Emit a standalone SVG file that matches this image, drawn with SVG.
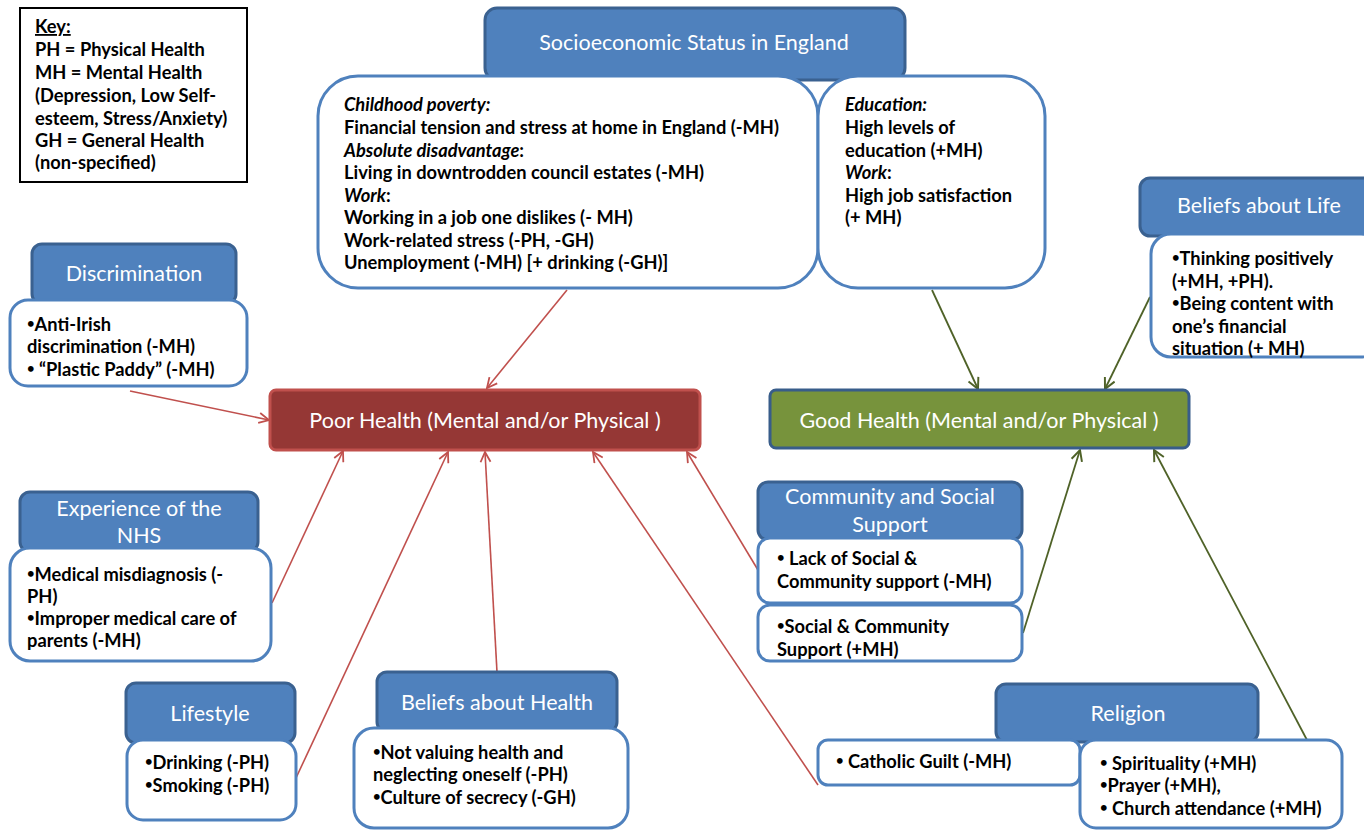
<svg xmlns="http://www.w3.org/2000/svg" width="1364" height="830" viewBox="0 0 1364 830">
<defs>
<style>
.hdr{fill:#4f81bd;stroke:#3a6190;stroke-width:3}
.box{fill:#fff;stroke:#4f81bd;stroke-width:3}
.ht{font-family:Lato,"Open Sans",sans-serif;font-size:21.5px;fill:#fff;text-anchor:middle}
.bt{font-family:Lato,"Open Sans",sans-serif;font-size:18.3px;font-weight:bold;fill:#000}
.it{font-style:italic}
.bu{font-size:13px;baseline-shift:3px}
.red{stroke:#c0504d;stroke-width:1.6;fill:none}
.grn{stroke:#4f6228;stroke-width:1.8;fill:none}
</style>
<marker id="ar" viewBox="0 0 12 12" refX="11" refY="6" markerWidth="12" markerHeight="12" markerUnits="userSpaceOnUse" orient="auto">
<path d="M1,1 L11,6 L1,11" fill="none" stroke="#c0504d" stroke-width="1.8"/>
</marker>
<marker id="ag" viewBox="0 0 12 12" refX="11" refY="6" markerWidth="13" markerHeight="13" markerUnits="userSpaceOnUse" orient="auto">
<path d="M1,1 L11,6 L1,11" fill="none" stroke="#4f6228" stroke-width="1.8"/>
</marker>
</defs>
<rect width="1364" height="830" fill="#fff"/>

<g id="connectors">
<line class="red" x1="567" y1="290" x2="487" y2="388" marker-end="url(#ar)"/>
<line class="red" x1="130" y1="391" x2="269" y2="420" marker-end="url(#ar)"/>
<line class="red" x1="272" y1="603" x2="343" y2="451" marker-end="url(#ar)"/>
<line class="red" x1="296" y1="778" x2="448" y2="452" marker-end="url(#ar)"/>
<line class="red" x1="497" y1="672" x2="485" y2="452" marker-end="url(#ar)"/>
<line class="red" x1="818" y1="785" x2="593" y2="452" marker-end="url(#ar)"/>
<line class="red" x1="758" y1="570" x2="687" y2="452" marker-end="url(#ar)"/>
<line class="grn" x1="932" y1="290" x2="978" y2="389" marker-end="url(#ag)"/>
<line class="grn" x1="1150" y1="297" x2="1105" y2="389" marker-end="url(#ag)"/>
<line class="grn" x1="1023" y1="633" x2="1080" y2="450" marker-end="url(#ag)"/>
<line class="grn" x1="1307" y1="740" x2="1154" y2="450" marker-end="url(#ag)"/>
</g>

<g id="key">
<rect x="20" y="8" width="227" height="174" fill="#fff" stroke="#000" stroke-width="2"/>
<text class="bt" x="35" y="33" text-decoration="underline">Key:</text>
<text class="bt" x="35" y="56">PH = Physical Health</text>
<text class="bt" x="35" y="79">MH = Mental Health</text>
<text class="bt" x="35" y="102">(Depression, Low Self-</text>
<text class="bt" x="35" y="125">esteem, Stress/Anxiety)</text>
<text class="bt" x="35" y="147">GH = General Health</text>
<text class="bt" x="35" y="169">(non-specified)</text>
</g>

<g id="ses">
<rect class="hdr" x="485" y="8" width="420" height="72" rx="12"/>
<text class="ht" x="694" y="50">Socioeconomic Status in England</text>
<rect class="box" x="318" y="76" width="500" height="212" rx="40"/>
<text class="bt" x="344" y="111"><tspan class="it">Childhood poverty:</tspan></text>
<text class="bt" x="344" y="134">Financial tension and stress at home in England (-MH)</text>
<text class="bt" x="344" y="157"><tspan class="it">Absolute disadvantage</tspan>:</text>
<text class="bt" x="344" y="179">Living in downtrodden council estates (-MH)</text>
<text class="bt" x="344" y="202"><tspan class="it">Work</tspan>:</text>
<text class="bt" x="344" y="224">Working in a job one dislikes (- MH)</text>
<text class="bt" x="344" y="247">Work-related stress (-PH, -GH)</text>
<text class="bt" x="344" y="269">Unemployment (-MH) [+ drinking (-GH)]</text>
<rect class="box" x="818" y="76" width="227" height="212" rx="40"/>
<text class="bt" x="845" y="111"><tspan class="it">Education:</tspan></text>
<text class="bt" x="845" y="134">High levels of</text>
<text class="bt" x="845" y="157">education (+MH)</text>
<text class="bt" x="845" y="179"><tspan class="it">Work</tspan>:</text>
<text class="bt" x="845" y="202">High job satisfaction</text>
<text class="bt" x="845" y="224">(+ MH)</text>
</g>

<g id="beliefs-life">
<rect class="hdr" x="1140" y="178" width="240" height="58" rx="10"/>
<text class="ht" x="1259" y="213">Beliefs about Life</text>
<rect class="box" x="1151" y="234" width="230" height="123" rx="20"/>
<text class="bt" x="1172" y="265"><tspan class="bu">•</tspan>Thinking positively</text>
<text class="bt" x="1172" y="288">(+MH, +PH).</text>
<text class="bt" x="1172" y="310"><tspan class="bu">•</tspan>Being content with</text>
<text class="bt" x="1172" y="333">one’s financial</text>
<text class="bt" x="1172" y="355">situation (+ MH)</text>
</g>

<g id="discrimination">
<rect class="hdr" x="32" y="244" width="204" height="60" rx="10"/>
<text class="ht" x="134" y="281">Discrimination</text>
<rect class="box" x="10" y="300" width="237" height="86" rx="18"/>
<text class="bt" x="27" y="331"><tspan class="bu">•</tspan>Anti-Irish</text>
<text class="bt" x="27" y="353">discrimination (-MH)</text>
<text class="bt" x="27" y="376"><tspan class="bu">•</tspan> “Plastic Paddy” (-MH)</text>
</g>

<g id="poor-health">
<rect x="270" y="390" width="430" height="60" rx="6" fill="#953735" stroke="#c0504d" stroke-width="3"/>
<text class="ht" x="485" y="428">Poor Health (Mental and/or Physical )</text>
</g>

<g id="good-health">
<rect x="770" y="390" width="419" height="58" rx="6" fill="#77933c" stroke="#385d8a" stroke-width="3"/>
<text class="ht" x="979" y="428">Good Health (Mental and/or Physical )</text>
</g>

<g id="nhs">
<rect class="hdr" x="20" y="492" width="238" height="60" rx="10"/>
<text class="ht" x="139" y="516">Experience of the</text>
<text class="ht" x="139" y="543">NHS</text>
<rect class="box" x="10" y="548" width="261" height="113" rx="20"/>
<text class="bt" x="27" y="581"><tspan class="bu">•</tspan>Medical misdiagnosis (-</text>
<text class="bt" x="27" y="603">PH)</text>
<text class="bt" x="27" y="625"><tspan class="bu">•</tspan>Improper medical care of</text>
<text class="bt" x="27" y="647">parents (-MH)</text>
</g>

<g id="community">
<rect class="hdr" x="758" y="482" width="264" height="58" rx="10"/>
<text class="ht" x="890" y="504">Community and Social</text>
<text class="ht" x="890" y="532">Support</text>
<rect class="box" x="758" y="538" width="264" height="65" rx="12"/>
<text class="bt" x="777" y="565"><tspan class="bu">•</tspan>  Lack of Social &amp;</text>
<text class="bt" x="777" y="588">Community support (-MH)</text>
<rect class="box" x="758" y="605" width="264" height="56" rx="12"/>
<text class="bt" x="777" y="633"><tspan class="bu">•</tspan>Social &amp; Community</text>
<text class="bt" x="777" y="656">Support (+MH)</text>
</g>

<g id="lifestyle">
<rect class="hdr" x="126" y="683" width="169" height="60" rx="10"/>
<text class="ht" x="210" y="721">Lifestyle</text>
<rect class="box" x="127" y="740" width="169" height="80" rx="16"/>
<text class="bt" x="145" y="769"><tspan class="bu">•</tspan>Drinking (-PH)</text>
<text class="bt" x="145" y="792"><tspan class="bu">•</tspan>Smoking (-PH)</text>
</g>

<g id="beliefs-health">
<rect class="hdr" x="377" y="672" width="240" height="60" rx="10"/>
<text class="ht" x="497" y="710">Beliefs about Health</text>
<rect class="box" x="354" y="728" width="274" height="100" rx="20"/>
<text class="bt" x="373" y="759"><tspan class="bu">•</tspan>Not valuing health and</text>
<text class="bt" x="373" y="781">neglecting oneself (-PH)</text>
<text class="bt" x="373" y="804"><tspan class="bu">•</tspan>Culture of secrecy  (-GH)</text>
</g>

<g id="religion">
<rect class="hdr" x="996" y="684" width="262" height="58" rx="10"/>
<text class="ht" x="1128" y="721">Religion</text>
<rect class="box" x="818" y="740" width="262" height="45" rx="10"/>
<text class="bt" x="836" y="768"><tspan class="bu">•</tspan> Catholic Guilt (-MH)</text>
<rect class="box" x="1080" y="740" width="262" height="88" rx="16"/>
<text class="bt" x="1100" y="770"><tspan class="bu">•</tspan> Spirituality (+MH)</text>
<text class="bt" x="1100" y="792"><tspan class="bu">•</tspan>Prayer (+MH),</text>
<text class="bt" x="1100" y="815"><tspan class="bu">•</tspan> Church attendance (+MH)</text>
</g>
</svg>
